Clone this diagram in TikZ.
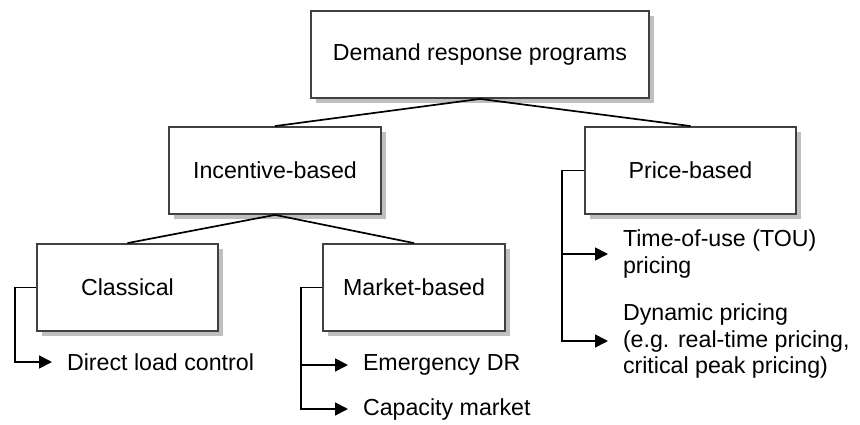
\documentclass[tikz,border=0pt]{standalone}
\usepackage{fontspec}
\setmainfont{Liberation Sans}
\usetikzlibrary{shadows,arrows.meta}
\begin{document}
\begin{tikzpicture}[x=1pt, y=-1pt, font=\fontsize{23.2}{27}\selectfont,
    box/.style={rectangle, draw=black!75, line width=1.8pt, fill=white, minimum height=87pt,
      drop shadow={shadow xshift=5pt, shadow yshift=-5pt, fill=black!25, opacity=1}},
    item/.style={anchor=west, inner xsep=0pt, outer xsep=15pt, align=left},
    arr/.style={line width=1.7pt, -{Triangle[length=13pt,width=13pt]}}]
  \useasboundingbox (0,0) rectangle (860,425);
  \node[box, minimum width=338pt] (drp) at (480,54.5) {Demand response programs};
  \node[box, minimum width=212pt] (inc) at (275,170.5) {Incentive-based};
  \node[box, minimum width=211pt] (prc) at (690.5,170.5) {Price-based};
  \node[box, minimum width=181pt] (cls) at (127.5,287.5) {Classical};
  \node[box, minimum width=182pt] (mkt) at (414,287.5) {Market-based};
  \node[item] (dlc) at (52,362) {Direct load control};
  \node[item] (edr) at (348,365) {Emergency DR};
  \node[item] (cap) at (348,409) {Capacity market};
  \node[item] (tou) at (608,254) {Time-of-use (TOU)\\pricing};
  \node[item] (dyn) at (608,341) {Dynamic pricing\\(e.g. real-time pricing,\\critical peak pricing)};
  \foreach \source/\dest in {drp/inc, drp/prc, inc/cls, inc/mkt}
    \draw[line width=1.7pt] (\source.south) -- (\dest.north);
  \draw[arr] (cls.west) -- ++(-21,0) |- (dlc.west);
  \draw[arr] (mkt.west) -- ++(-21,0) coordinate (mk) |- (cap.west);
  \draw[arr] (mk) |- (edr.west);
  \draw[arr] (prc.west) -- ++(-22,0) coordinate (pk) |- (dyn.west);
  \draw[arr] (pk) |- (tou.west);
\end{tikzpicture}
\end{document}
